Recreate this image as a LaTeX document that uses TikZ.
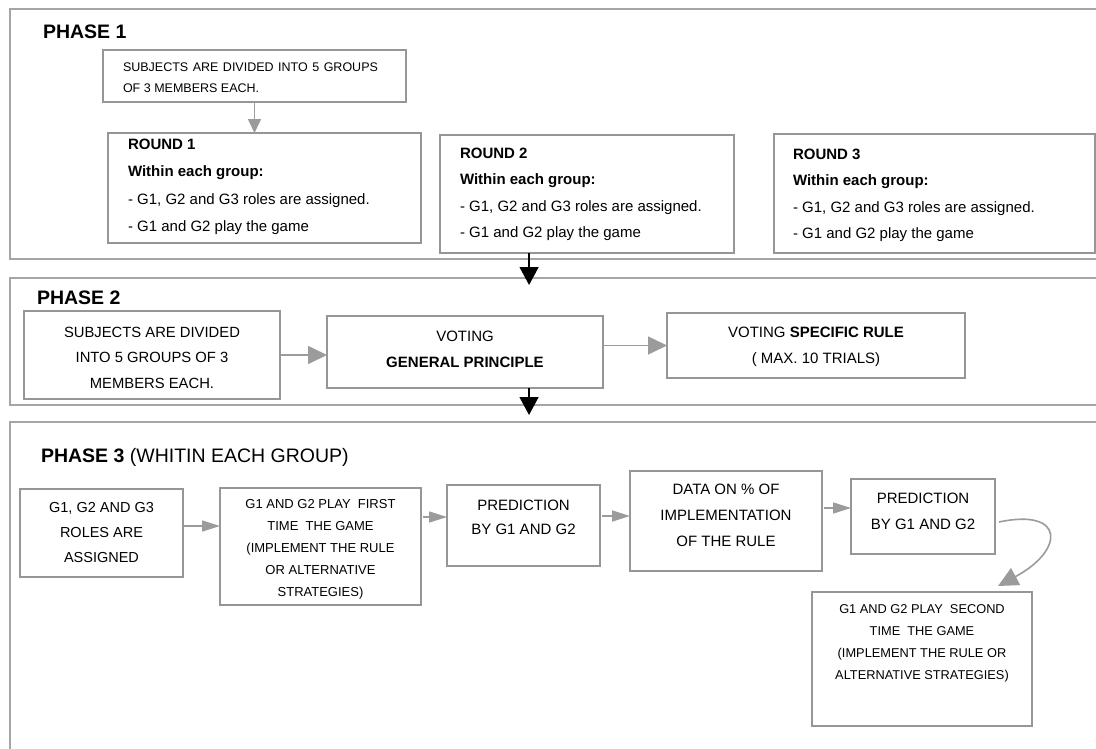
\documentclass[tikz,border=0pt]{standalone}
\usepackage{fontspec}
\setmainfont{Liberation Sans}
\usetikzlibrary{arrows.meta,calc}
\definecolor{boxgray}{RGB}{150,150,150}
\definecolor{framegray}{RGB}{165,165,165}
\definecolor{arrowgray}{RGB}{155,155,155}
\newcommand{\fsz}[2]{\fontsize{#1}{#2}\selectfont}
\newcommand{\wsp}{\hspace{4.5pt}}
\begin{document}
\begin{tikzpicture}[x=1pt,y=-1pt,
  flowbox/.style={draw=boxgray,line width=1.6pt,inner sep=0pt,outer sep=0pt},
  phaseframe/.style={draw=framegray,line width=2pt,inner sep=0pt,outer sep=0pt},
  txt/.style={inner sep=0pt,outer sep=0pt,text=black},
  garrowA/.style={draw=arrowgray,line width=1.6pt,-{Triangle[length=14pt,width=13pt]}},
  garrowB/.style={draw=arrowgray,line width=1.6pt,-{Triangle[length=19pt,width=18pt]}},
  garrowC/.style={draw=arrowgray,line width=1.6pt,-{Triangle[length=18pt,width=11pt]}},
  garrowD/.style={draw=arrowgray,line width=1.6pt,-{Triangle[length=20pt,width=19pt]}},
  karrow/.style={draw=black,line width=1.4pt,-{Triangle[length=18pt,width=19pt]}},
]
\useasboundingbox (0,0) rectangle (1096,748);
\fill[white] (0,0) rectangle (1096,748);

% phase frames (open to the right / bottom)
\node[phaseframe,minimum width=1100,minimum height=250] (ph1) at (560,134) {};
\node[phaseframe,minimum width=1100,minimum height=127] (ph2) at (560,341.5) {};
\node[phaseframe,minimum width=1100,minimum height=338] (ph3) at (560,591) {};

\node[txt,anchor=base west,font=\fsz{19.5}{22}\bfseries] (p1l) at (43,38) {PHASE 1};
\node[txt,anchor=base west,font=\fsz{19.5}{22}\bfseries] (p2l) at (37,304) {PHASE 2};
\node[txt,anchor=base west,font=\fsz{19.5}{22}] (p3l) at (41,462) {\textbf{PHASE 3} (WHITIN EACH GROUP)};

% ---------------- PHASE 1
\node[flowbox,minimum width=303,minimum height=52] (s1) at (254.5,76) {};
\node[txt,anchor=north west,align=left,font=\fsz{12.5}{21}] (s1t) at (123,62.5)
  {SUBJECTS\wsp ARE\wsp DIVIDED\wsp INTO\wsp 5\wsp GROUPS\\OF 3 MEMBERS EACH.};

\node[flowbox,minimum width=313,minimum height=110] (r1) at (264.5,188) {};
\node[flowbox,minimum width=294,minimum height=118] (r2) at (587,194) {};
\node[flowbox,minimum width=321,minimum height=119] (r3) at (934.5,193.5) {};

\node[txt,anchor=north west,align=left,font=\fsz{15}{27.5}] (r1t) at (128,139)
  {\textbf{ROUND 1}\\\textbf{Within each group:}\\- G1, G2 and G3 roles are assigned.\\- G1 and G2 play the game};
\node[txt,anchor=north west,align=left,font=\fsz{15}{26.5}] (r2t) at (460,147.6)
  {\textbf{ROUND 2}\\\textbf{Within each group:}\\- G1, G2 and G3 roles are assigned.\\- G1 and G2 play the game};
\node[txt,anchor=north west,align=left,font=\fsz{15}{26.5}] (r3t) at (793,148.6)
  {\textbf{ROUND 3}\\\textbf{Within each group:}\\- G1, G2 and G3 roles are assigned.\\- G1 and G2 play the game};

\draw[garrowA] (s1.south) -- (s1.south |- r1.north);

\coordinate (k1s) at ($(r2.south west)!0.303!(r2.south east)$);
\coordinate (k1e) at ($(k1s)+(0,32)$);
\draw[karrow] (k1s) -- (k1e);

% ---------------- PHASE 2
\node[flowbox,minimum width=256,minimum height=88] (s2) at (152,355) {};
\node[txt,anchor=north,align=center,font=\fsz{14.8}{25.5}] (s2t) at (152,326.7)
  {SUBJECTS ARE DIVIDED\\INTO 5 GROUPS OF 3\\MEMBERS EACH.};

\node[flowbox,minimum width=276,minimum height=72] (v1) at (465,352) {};
\node[txt,anchor=north,align=center,font=\fsz{15}{26}] (v1t) at (465,330.6)
  {VOTING\\\textbf{GENERAL PRINCIPLE}};

\node[flowbox,minimum width=298,minimum height=65] (v2) at (816,345.5) {};
\node[txt,anchor=north,align=center,font=\fsz{15}{26}] (v2t) at (816,326.6)
  {VOTING \textbf{SPECIFIC RULE}\\( MAX. 10 TRIALS)};

\draw[garrowB] (s2.east) -- (v1.west |- s2.east);
\draw[garrowB] (v1.east |- v2.west) -- (v2.west);

\coordinate (k2s) at ($(v1.south west)!0.732!(v1.south east)$);
\coordinate (k2e) at ($(k2s)+(0,27)$);
\draw[karrow] (k2s) -- (k2e);

% ---------------- PHASE 3
\node[flowbox,minimum width=163,minimum height=88] (b1) at (101.5,533) {};
\node[txt,anchor=north,align=center,font=\fsz{14.5}{25}] (b1t) at (101.5,502.8)
  {G1, G2 AND G3\\ROLES ARE\\ASSIGNED};

\node[flowbox,minimum width=201,minimum height=117] (b2) at (320.5,546.5) {};
\node[txt,anchor=north,align=center,font=\fsz{13}{22}] (b2t) at (320.5,499.3)
  {G1 AND G2 PLAY\ \ FIRST\\TIME\ \ THE GAME\\(IMPLEMENT THE RULE\\OR ALTERNATIVE\\STRATEGIES)};

\node[flowbox,minimum width=153,minimum height=81] (b3) at (523.5,525.5) {};
\node[txt,anchor=north,align=center,font=\fsz{15}{24}] (b3t) at (523.5,499.6)
  {PREDICTION\\BY G1 AND G2};

\node[flowbox,minimum width=192,minimum height=100] (b4) at (726,521) {};
\node[txt,anchor=north,align=center,font=\fsz{15}{26}] (b4t) at (726,483.6)
  {DATA ON \% OF\\IMPLEMENTATION\\OF THE RULE};

\node[flowbox,minimum width=144,minimum height=75] (b5) at (923,516.5) {};
\node[txt,anchor=north,align=center,font=\fsz{15}{26}] (b5t) at (923,492.6)
  {PREDICTION\\BY G1 AND G2};

\node[flowbox,minimum width=220,minimum height=134] (b6) at (922,659) {};
\node[txt,anchor=north,align=center,font=\fsz{12.8}{22}] (b6t) at (922,604.5)
  {G1 AND G2 PLAY\ \ SECOND\\TIME\ \ THE GAME\\(IMPLEMENT THE RULE OR\\ALTERNATIVE STRATEGIES)};

\draw[garrowC] ($(b1.east)+(0,-7)$) -- ($(b2.west)+(0,-20.5)$);
\draw[garrowC] ($(b2.east)+(2,-29.5)$) -- ($(b3.west)+(0,-8.5)$);
\draw[garrowC] ($(b3.east)+(2,-9.5)$) -- ($(b4.west)+(0,-5)$);
\draw[garrowC] ($(b4.east)+(2,-13)$) -- ($(b5.west)+(0,-8.5)$);

\coordinate (cs) at ($(b5.east)+(4,5.5)$);
\coordinate (ce) at ($(b6.north east)+(-34,-6)$);
\draw[garrowD] (cs) .. controls (1065,508) and (1065,550) .. (ce);
\end{tikzpicture}
\end{document}
